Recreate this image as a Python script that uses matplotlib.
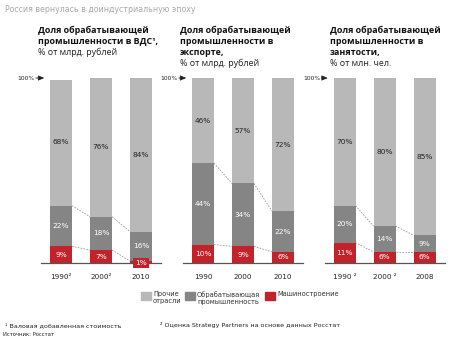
import matplotlib
matplotlib.use("Agg")
import matplotlib.pyplot as plt
from matplotlib.patches import Rectangle

# ---- data ----
years_vds = ["1990²", "2000²", "2010"]
mash_vds = [9, 7, 1]
obr_vds = [22, 18, 16]
other_vds = [68, 76, 84]

years_exp = ["1990", "2000", "2010"]
mash_exp = [10, 9, 6]
obr_exp = [44, 34, 22]
other_exp = [46, 57, 72]

years_emp = ["1990 ²", "2000 ²", "2008"]
mash_emp = [11, 6, 6]
obr_emp = [20, 14, 9]
other_emp = [70, 80, 85]

titles_bold = [["Доля обрабатывающей", "промышленности в ВДС¹,"],
               ["Доля обрабатывающей", "промышленности в", "экспорте,"],
               ["Доля обрабатывающей", "промышленности в", "занятости,"]]
titles_norm = ["% от млрд. рублей", "% от млрд. рублей", "% от млн. чел."]
legend_labels = ["Прочие\nотрасли", "Обрабатывающая\nпромышленность", "Машиностроение"]

C_LIGHT = "#b8b8b8"
C_DARK = "#858585"
C_RED = "#c3222b"
FONT = "DejaVu Sans"
TFONT = "Open Sans"

W, H = 450, 346
fig = plt.figure(figsize=(W / 100, H / 100), dpi=100)
fig.patch.set_facecolor("white")

def fx(px):
    return px / W

def fy(py):
    return 1 - py / H

fig.text(fx(5), fy(9), "Россия вернулась в доиндустриальную эпоху", color="#a8a8a8",
         fontsize=5.7, family=FONT, va="center", ha="left")

panels = [
    (years_vds, mash_vds, obr_vds, other_vds, 41, 38, 17),
    (years_exp, mash_exp, obr_exp, other_exp, 183, 180, 160),
    (years_emp, mash_emp, obr_emp, other_emp, 324.5, 330, 303),
]
base_px, top_px = 263, 78
bw = 0.55

for i, (yrs, m, o, r, left, tx, arx) in enumerate(panels):
    ax = fig.add_axes([fx(left), fy(base_px), fx(120), (base_px - top_px) / H])
    ax.set_xlim(-0.5, 2.5)
    ax.set_ylim(0, 100)
    ax.axis("off")
    x = list(range(3))
    ax.bar(x, m, width=bw, color=C_RED, zorder=2)
    ax.bar(x, o, width=bw, bottom=m, color=C_DARK, zorder=2)
    bottoms = [a + b for a, b in zip(m, o)]
    ax.bar(x, r, width=bw, bottom=bottoms, color=C_LIGHT, zorder=2)
    ax.axhline(0, color="#555555", lw=0.9, zorder=3, clip_on=False)
    # connectors
    for j in range(2):
        ax.plot([j + bw / 2, j + 1 - bw / 2], [bottoms[j], bottoms[j + 1]],
                ls=(0, (2, 1.5)), color="#9a9a9a", lw=0.6, zorder=1)
        ax.plot([j + bw / 2, j + 1 - bw / 2], [m[j], m[j + 1]],
                ls=(0, (2, 1.5)), color="#9a9a9a", lw=0.6, zorder=1)
    for j in range(3):
        if m[j] >= 4:
            ax.text(j, m[j] / 2, f"{m[j]}%", color="white", fontsize=5.3, family=FONT,
                    ha="center", va="center", zorder=4)
        else:
            ax.text(j, 0, f"{m[j]}%", color="white", fontsize=5.3, family=FONT,
                    ha="center", va="center", zorder=4,
                    bbox=dict(boxstyle="square,pad=0.25", fc=C_RED, ec="none"))
        ax.text(j, m[j] + o[j] / 2, f"{o[j]}%", color="white", fontsize=5.3, family=FONT,
                ha="center", va="center", zorder=4)
        ax.text(j, bottoms[j] + r[j] / 2 + (100 - bottoms[j] - r[j]) / 2, f"{r[j]}%",
                color="#222222", fontsize=5.3, family=FONT, ha="center", va="center", zorder=4)
        ax.text(j, -7.8, yrs[j], color="#222222", fontsize=5.2, family=FONT,
                ha="center", va="center", clip_on=False)
    # titles
    for k, line in enumerate(titles_bold[i]):
        fig.text(fx(tx), fy(33 + 11 * k), line, fontsize=6.4, weight="bold", family=TFONT,
                 ha="left", va="baseline", color="#111111")
    nb = len(titles_bold[i])
    fig.text(fx(tx), fy(33 + 11 * nb), titles_norm[i], fontsize=6.4, family=TFONT,
             ha="left", va="baseline", color="#222222")
    # 100% arrow
    fig.text(fx(arx), fy(top_px), "100%", fontsize=4.3, family=FONT, ha="left",
             va="center", color="#222222")
    ax.annotate("", xy=(fx(left + 6), fy(top_px)), xytext=(fx(arx + 16), fy(top_px)),
                xycoords="figure fraction", textcoords="figure fraction",
                arrowprops=dict(arrowstyle="-|>,head_length=0.35,head_width=0.15",
                                color="#222222", lw=0.6))

# legend
leg = [(141, C_LIGHT, legend_labels[0]), (185, C_DARK, legend_labels[1]),
       (265, C_RED, legend_labels[2])]
for lx, col, lab in leg:
    fig.add_artist(Rectangle((fx(lx), fy(299.5)), fx(10), 7.5 / H, transform=fig.transFigure,
                             color=col))
    fig.text(fx(lx + 12), fy(291), lab, fontsize=4.8, family=FONT, ha="left", va="top",
             color="#333333", linespacing=1.3)

fig.text(fx(5), fy(325), "¹ Валовая добавленная стоимость", fontsize=4.6, family=FONT,
         ha="left", va="center", color="#222222")
fig.text(fx(160), fy(325), "² Оценка Strategy Partners на основе данных Росстат",
         fontsize=4.6, family=FONT, ha="left", va="center", color="#222222")
fig.text(fx(3), fy(335), "Источник: Росстат", fontsize=3.8, family=FONT,
         ha="left", va="center", color="#222222")

fig.savefig("out.png", dpi=100)
